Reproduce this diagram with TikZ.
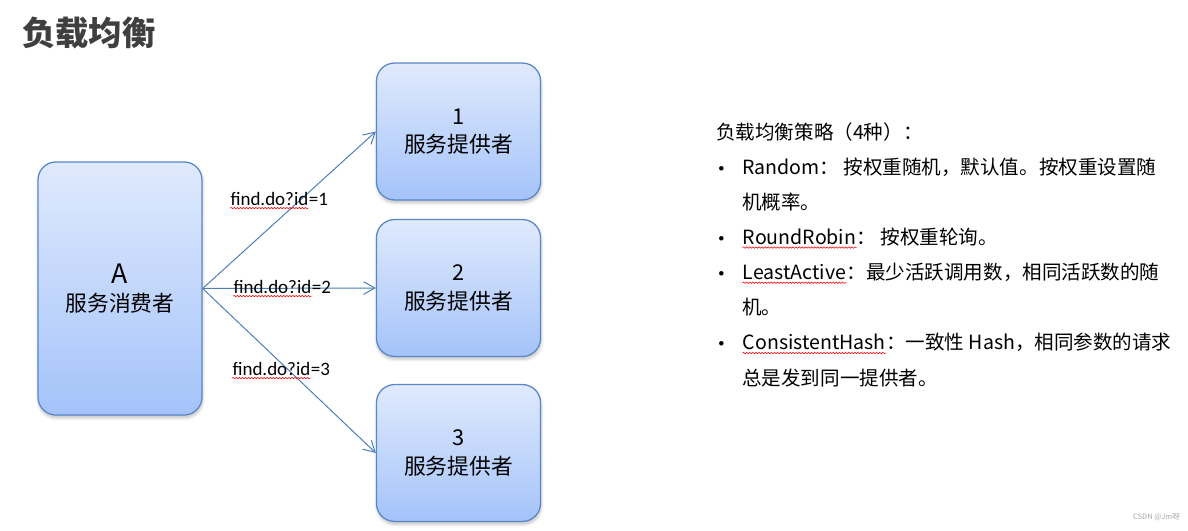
\documentclass[tikz,border=0pt]{standalone}
\usepackage{fontspec}
\usepackage{xcolor}
\usepackage{tikz}
\usetikzlibrary{shapes,arrows.meta,shadows.blur,decorations.pathmorphing}
\setmainfont{Noto Sans CJK SC}
\newfontfamily\calibri{Carlito}
\newfontfamily\dejavu{DejaVu Sans}

\definecolor{boxtop}{HTML}{E0EAFD}
\definecolor{boxbottom}{HTML}{A4C3FA}
\definecolor{boxline}{HTML}{5A87C8}
\definecolor{arrowblue}{HTML}{4A7EBB}
\definecolor{titlegray}{HTML}{3F3F3F}

\newcommand{\spell}[1]{\tikz[baseline=(w.base)]{\node[inner sep=0pt,anchor=base west] (w) at (0,0) {#1};\draw[red,line width=0.4pt,decorate,decoration={snake,amplitude=0.5pt,segment length=2.2pt}] ([yshift=-2.2pt]w.base west) -- ([yshift=-2.2pt]w.base east);}}
\newcommand{\bul}{\makebox[18.5pt][l]{\hspace{0.5pt}{\dejavu\fontsize{11}{12}\selectfont •}}}
\newcommand{\ind}{\hspace*{18.5pt}}

\tikzset{
	server/.style={rectangle,rounded corners=0.45cm,draw=boxline,line width=0.9pt,top color=boxtop,bottom color=boxbottom,minimum width=4.1cm,align=center,font=\fontsize{15.5}{20}\selectfont,blur shadow={shadow xshift=0.4pt,shadow yshift=-2pt,shadow blur steps=6,shadow opacity=25}},
	request/.style={font=\calibri\fontsize{13.5}{16}\selectfont,inner sep=0pt,anchor=base},
	flow/.style={draw=arrowblue,line width=0.7pt,->}
}

\begin{document}
\begin{tikzpicture}[x=0.025cm,y=-0.025cm,>={Straight Barb[length=8pt,width=9pt]}]
		\useasboundingbox (0,0) rectangle (1188,531);

		\node[anchor=west,inner sep=0pt,text=titlegray,font=\bfseries\fontsize{23.7}{28}\selectfont] (title) at (22,33) {负载均衡};

		\node[server,minimum height=6.325cm] (A) at (120,288.5) {{\fontsize{19}{20}\selectfont A}\\服务消费者};
		\node[server,minimum height=3.42cm] (P1) at (458.5,131.5) {1\\服务提供者};
		\node[server,minimum height=3.42cm] (P2) at (458.5,288) {2\\服务提供者};
		\node[server,minimum height=3.42cm] (P3) at (458.5,453) {3\\服务提供者};

		\draw[flow] (A.east) -- (P1.west);
		\draw[flow] (A.east) -- (P2.west);
		\draw[flow] (A.east) -- (P3.west);

		\node[request] (R1) at (279,205) {\spell{find.do?id}=1};
		\node[request] (R2) at (282,293) {\spell{find.do?id}=2};
		\node[request] (R3) at (281,375) {\spell{find.do?id}=3};

		\node[anchor=north west,inner sep=0pt,align=left,font=\fontsize{13.9}{25}\selectfont] (strategy) at (716,122) {负载均衡策略（4种）：\\
\bul Random： 按权重随机，默认值。按权重设置随\\
\ind 机概率。\\
\bul \spell{RoundRobin}： 按权重轮询。\\
\bul \spell{LeastActive}：最少活跃调用数，相同活跃数的随\\
\ind 机。\\
\bul \spell{ConsistentHash}：一致性 Hash，相同参数的请求\\
\ind 总是发到同一提供者。};

		\node[anchor=east,inner sep=0pt,text=gray!70,font=\fontsize{5.3}{6}\selectfont] (mark) at (1180,517) {CSDN @Jm呀};
	\end{tikzpicture}
\end{document}
